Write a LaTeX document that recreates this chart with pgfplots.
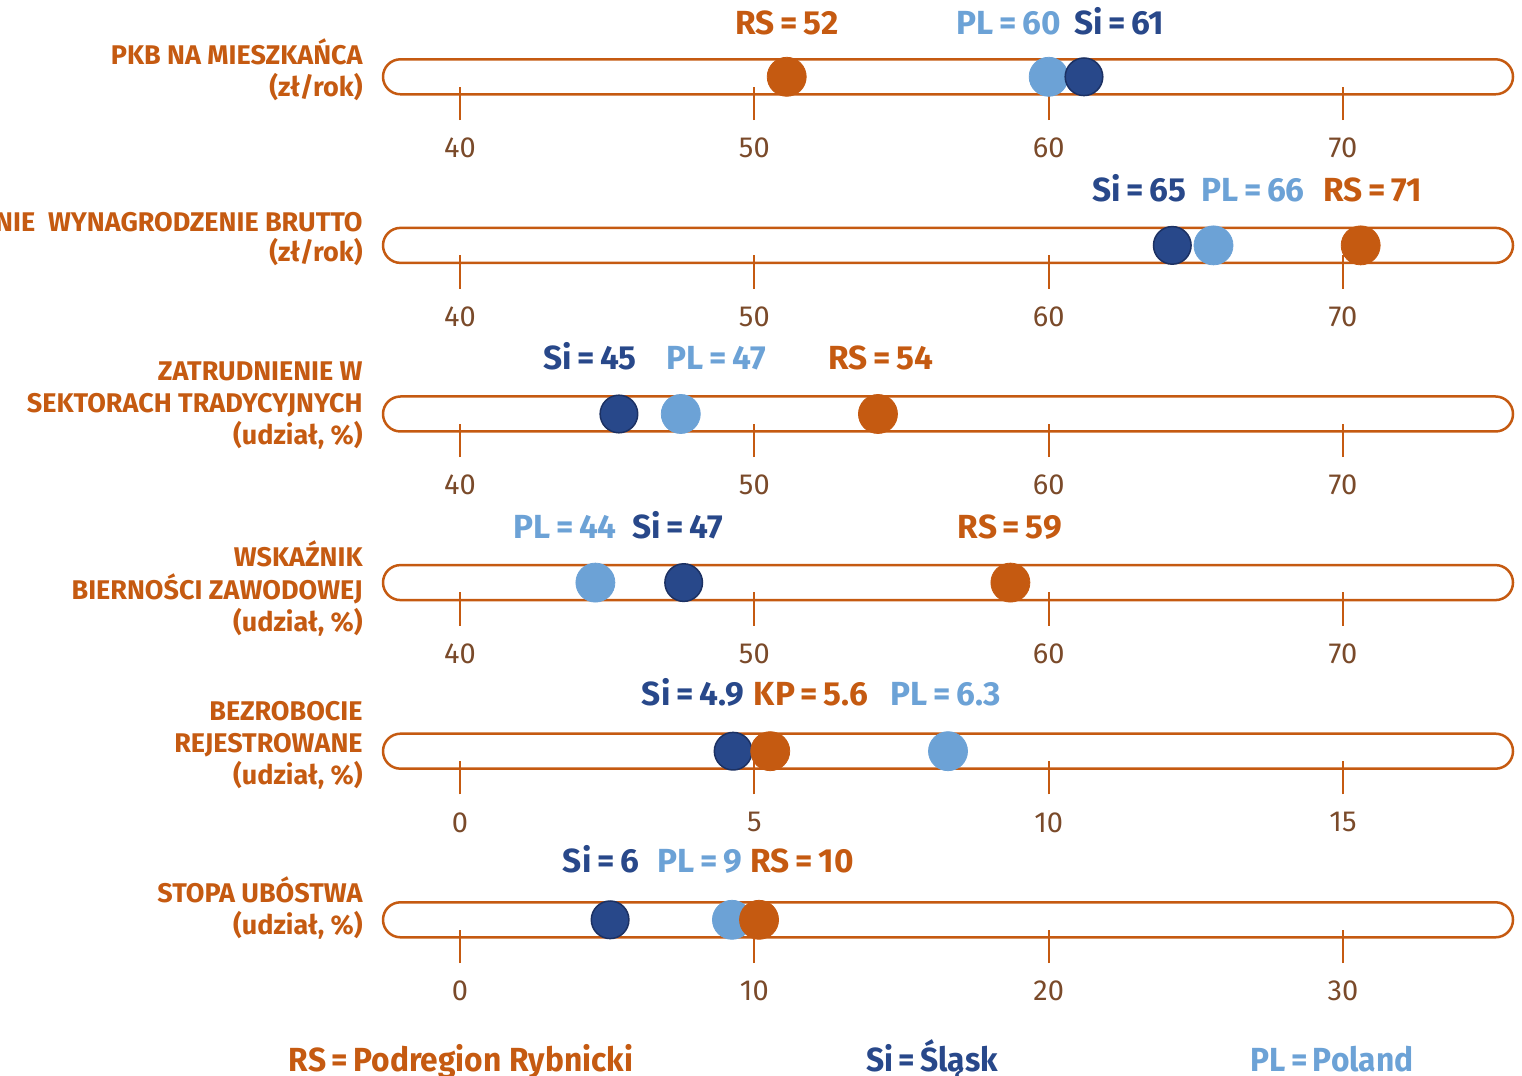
\documentclass[border=0pt]{standalone}
\usepackage{pgfplots}
\pgfplotsset{compat=1.18}
\usepackage{fontspec}
\setmainfont{Fira Sans}
\definecolor{rs}{HTML}{C55A11}
\definecolor{si}{HTML}{28488A}
\definecolor{sio}{HTML}{1C3163}
\definecolor{pl}{HTML}{6CA2D6}
\definecolor{tk}{HTML}{7A4A2A}
\pgfplotsset{
  row/.style={scale only axis, width=565pt, height=13.7pt,
    ymin=0, ymax=27.4, clip=false, anchor=south west,
    axis line style={draw=none}, ytick=\empty,
    xtick pos=left, xtick align=outside, major tick length=16.67pt,
    tick style={rs, line width=1pt},
    /pgf/number format/assume math mode=true,
    xticklabel style={font=\fontsize{14.5}{16}\selectfont, text=tk, anchor=north, yshift=-5.5pt},
  },
  pts/.style={only marks, mark=*, mark size=9.75pt},
}
\newcommand{\track}[2]{\draw[rs, line width=1.25pt, rounded corners=8.75pt] (axis cs:#1,-7.6) rectangle (axis cs:#2,27.4);}
\newcommand{\rowdots}[3]{%
  \addplot[pts, pl] coordinates {(#1,9.9)};
  \addplot[pts, si, mark options={draw=sio, line width=0.75pt}, mark size=9.4pt] coordinates {(#2,9.9)};
  \addplot[pts, rs] coordinates {(#3,9.9)};}
\newcommand{\eq}{\hspace{0.17em}=\hspace{0.17em}}
\begin{document}
\begin{tikzpicture}
\useasboundingbox (0,0) rectangle (761pt,538pt);
% row 1
\begin{axis}[row, at={(191.5pt,494.65pt)}, xmin=37.384, xmax=75.776, xtick={40,50,60,70}]
\track{37.384}{75.776}
\rowdots{60.0}{61.2}{51.1}
\end{axis}
% row 2
\begin{axis}[row, at={(191.5pt,410.35pt)}, xmin=37.384, xmax=75.776, xtick={40,50,60,70}]
\track{37.384}{75.776}
\rowdots{65.6}{64.2}{70.6}
\end{axis}
% row 3
\begin{axis}[row, at={(191.5pt,326.05pt)}, xmin=37.384, xmax=75.776, xtick={40,50,60,70}]
\track{37.384}{75.776}
\rowdots{47.5}{45.4}{54.2}
\end{axis}
% row 4
\begin{axis}[row, at={(191.5pt,241.75pt)}, xmin=37.384, xmax=75.776, xtick={40,50,60,70}]
\track{37.384}{75.776}
\rowdots{44.6}{47.6}{58.7}
\end{axis}
% row 5
\begin{axis}[row, at={(191.5pt,157.45pt)}, xmin=-1.308, xmax=17.888, xtick={0,5,10,15}]
\track{-1.308}{17.888}
\rowdots{8.29}{4.64}{5.27}
\end{axis}
% row 6
\begin{axis}[row, at={(191.5pt,73.15pt)}, xmin=-2.616, xmax=35.776, xtick={0,10,20,30}]
\track{-2.616}{35.776}
\rowdots{9.24}{5.1}{10.16}
\end{axis}
\begin{scope}[x=0.5pt, y=-0.5pt, yshift=538pt]
\tikzset{lab/.style={anchor=base east, text=rs, font=\fontsize{13.5}{15}\bfseries, inner sep=0pt},
         val/.style={anchor=base, font=\fontsize{16.7}{20}\bfseries, inner sep=0pt},
         leg/.style={anchor=base, font=\fontsize{16.7}{20}\bfseries, inner sep=0pt}}
% left labels
\node[lab] at (363,65) {PKB NA MIESZKAŃCA};
\node[lab] at (363,96.7) {(zł/rok)};
\node[lab] at (363,231.7) {ŚREDNIE\ \ WYNAGRODZENIE BRUTTO};
\node[lab] at (363,262) {(zł/rok)};
\node[lab] at (363,380.5) {ZATRUDNIENIE W};
\node[lab] at (363,413) {SEKTORACH TRADYCYJNYCH};
\node[lab] at (363,444.5) {(udział, \%)};
\node[lab] at (363,566.5) {WSKAŹNIK};
\node[lab] at (363,599.5) {BIERNOŚCI ZAWODOWEJ};
\node[lab] at (363,631.5) {(udział, \%)};
\node[lab] at (363,720.5) {BEZROBOCIE};
\node[lab] at (363,752.5) {REJESTROWANE};
\node[lab] at (363,784.5) {(udział, \%)};
\node[lab] at (363,902.5) {STOPA UBÓSTWA};
\node[lab] at (363,934.5) {(udział, \%)};
% value labels
\node[val, text=rs] at (787,34.3) {RS\eq52};
\node[val, text=pl] at (1009,34.3) {PL\eq60};
\node[val, text=si] at (1119,34.3) {Si\eq61};
\node[val, text=si] at (1139,201.7) {Si\eq65};
\node[val, text=pl] at (1253,201.7) {PL\eq66};
\node[val, text=rs] at (1373,201.7) {RS\eq71};
\node[val, text=si] at (590,369.5) {Si\eq45};
\node[val, text=pl] at (716,369.5) {PL\eq47};
\node[val, text=rs] at (881,369.5) {RS\eq54};
\node[val, text=pl] at (565,539) {PL\eq44};
\node[val, text=si] at (678,539) {Si\eq47};
\node[val, text=rs] at (1010,539) {RS\eq59};
\node[val, text=si] at (693,706) {Si\eq4.9};
\node[val, text=rs] at (811,706) {KP\eq5.6};
\node[val, text=pl] at (946,706) {PL\eq6.3};
\node[val, text=si] at (601,873) {Si\eq6};
\node[val, text=pl] at (700,873) {PL\eq9};
\node[val, text=rs] at (802,873) {RS\eq10};
% legend
\node[leg, text=rs] at (461,1072) {\scalebox{0.95}[1]{RS\eq Podregion Rybnicki}};
\node[leg, text=si] at (932,1072) {\scalebox{0.95}[1]{Si\eq Śląsk}};
\node[leg, text=pl] at (1332,1072) {\scalebox{0.95}[1]{PL\eq Poland}};
\end{scope}
\end{tikzpicture}
\end{document}
